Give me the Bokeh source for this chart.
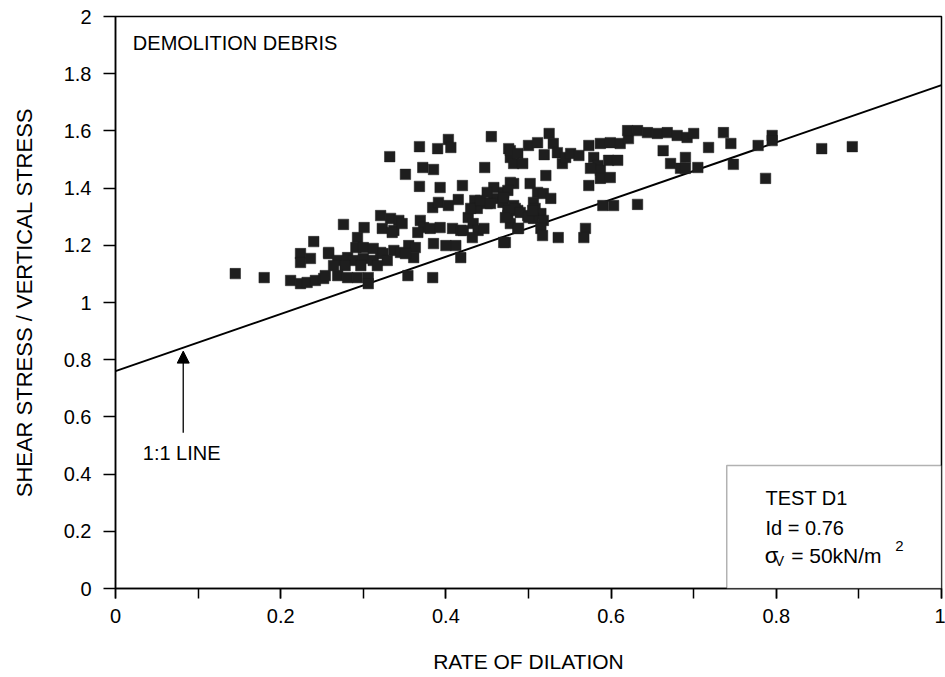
from bokeh.plotting import figure
from bokeh.models import (SingleIntervalTicker, CustomJSTickFormatter, Arrow,
                          NormalHead, BoxAnnotation, Label, ColumnDataSource)
from bokeh.embed import file_html
from bokeh.resources import INLINE

# ---- data ----
rate_of_dilation = [
    0.145, 0.180, 0.240, 0.224, 0.224, 0.236, 0.258, 0.212, 0.224, 0.232, 0.242, 0.252,
    0.332, 0.368, 0.390, 0.403, 0.406, 0.455, 0.476, 0.478, 0.482, 0.351, 0.372, 0.385, 0.447, 0.368, 0.393, 0.420, 0.458, 0.470, 0.482,
    0.384, 0.391, 0.403, 0.415, 0.435, 0.438, 0.450, 0.458, 0.469, 0.476, 0.427, 0.433, 0.439, 0.432, 0.475, 0.478, 0.487,
    0.276, 0.301, 0.293, 0.291, 0.321, 0.333, 0.343, 0.323, 0.337, 0.347, 0.369, 0.373, 0.366, 0.381, 0.393, 0.408, 0.418,
    0.385, 0.400, 0.412, 0.258, 0.269, 0.281, 0.288, 0.300, 0.312, 0.321, 0.337, 0.345, 0.355, 0.363, 0.361,
    0.264, 0.278, 0.297, 0.317, 0.418, 0.472, 0.254, 0.269, 0.281, 0.293, 0.306, 0.306, 0.354, 0.384,
    0.300, 0.312, 0.324, 0.351, 0.329, 0.335,
    0.478, 0.487, 0.493, 0.500, 0.511, 0.525, 0.530, 0.535, 0.541, 0.545, 0.519, 0.551, 0.561, 0.573, 0.587, 0.599, 0.611, 0.621,
    0.620, 0.632, 0.644, 0.656, 0.668, 0.680, 0.692, 0.700, 0.663, 0.579, 0.584, 0.587, 0.597, 0.608, 0.575, 0.587, 0.599, 0.573, 0.521,
    0.672, 0.684, 0.690, 0.705, 0.478, 0.475, 0.470, 0.502, 0.511, 0.518, 0.527, 0.482, 0.487, 0.475, 0.472, 0.506, 0.508, 0.515,
    0.499, 0.506, 0.518, 0.488, 0.515, 0.517, 0.536, 0.569, 0.567, 0.590, 0.603, 0.632,
    0.430, 0.442, 0.454, 0.484, 0.490, 0.421, 0.446, 0.470, 0.500, 0.505, 0.450,
    0.736, 0.745, 0.718, 0.690, 0.748, 0.778, 0.795, 0.795, 0.787, 0.855, 0.892,
]
stress_ratio = [
    1.101, 1.087, 1.213, 1.171, 1.140, 1.154, 1.171, 1.077, 1.066, 1.070, 1.077, 1.084,
    1.510, 1.545, 1.538, 1.570, 1.542, 1.580, 1.538, 1.507, 1.486, 1.448, 1.472, 1.465, 1.472, 1.406, 1.402, 1.409, 1.402, 1.385, 1.416,
    1.332, 1.350, 1.339, 1.360, 1.357, 1.329, 1.346, 1.364, 1.350, 1.329, 1.297, 1.276, 1.252, 1.227, 1.304, 1.276, 1.259,
    1.273, 1.262, 1.227, 1.192, 1.304, 1.294, 1.287, 1.259, 1.252, 1.276, 1.287, 1.262, 1.245, 1.259, 1.262, 1.259, 1.252,
    1.206, 1.199, 1.199, 1.175, 1.147, 1.157, 1.147, 1.154, 1.147, 1.175, 1.182, 1.175, 1.199, 1.192, 1.157,
    1.129, 1.129, 1.129, 1.129, 1.157, 1.210, 1.094, 1.094, 1.087, 1.087, 1.087, 1.066, 1.094, 1.087,
    1.192, 1.189, 1.171, 1.171, 1.147, 1.245,
    1.531, 1.521, 1.486, 1.549, 1.559, 1.591, 1.556, 1.524, 1.486, 1.507, 1.517, 1.521, 1.514, 1.549, 1.556, 1.559, 1.556, 1.573,
    1.601, 1.601, 1.594, 1.591, 1.594, 1.584, 1.577, 1.591, 1.531, 1.507, 1.479, 1.462, 1.497, 1.497, 1.469, 1.434, 1.437, 1.409, 1.444,
    1.486, 1.469, 1.507, 1.472, 1.420, 1.392, 1.367, 1.416, 1.385, 1.381, 1.364, 1.339, 1.322, 1.322, 1.297, 1.350, 1.329, 1.311,
    1.304, 1.294, 1.287, 1.259, 1.259, 1.234, 1.227, 1.259, 1.227, 1.339, 1.339, 1.343,
    1.329, 1.357, 1.346, 1.329, 1.315, 1.252, 1.259, 1.210, 1.297, 1.322, 1.385,
    1.594, 1.556, 1.542, 1.469, 1.483, 1.549, 1.584, 1.566, 1.434, 1.538, 1.545,
]
line_x = [0.0, 1.0]
line_y = [0.76, 1.76]

FONT = "Liberation Sans"

p = figure(width=945, height=677, x_range=(0, 1), y_range=(0, 2),
           output_backend="svg", toolbar_location=None,
           min_border_left=115, min_border_right=4, min_border_top=16,
           min_border_bottom=89)
p.background_fill_color = "white"
p.border_fill_color = "white"
p.outline_line_color = "black"
p.outline_line_width = 1.5
p.xgrid.visible = False
p.ygrid.visible = False

fmt = CustomJSTickFormatter(code="return Number(tick.toFixed(1)).toString();")

xa = p.xaxis[0]
xa.ticker = SingleIntervalTicker(interval=0.2, num_minor_ticks=2)
xa.formatter = fmt
xa.axis_label = "RATE OF DILATION"
ya = p.yaxis[0]
ya.ticker = SingleIntervalTicker(interval=0.2, num_minor_ticks=0)
ya.formatter = fmt
ya.axis_label = "SHEAR STRESS / VERTICAL STRESS"

for ax in (xa, ya):
    ax.axis_line_color = "black"
    ax.axis_line_width = 1.5
    ax.major_tick_line_color = "black"
    ax.minor_tick_line_color = "black"
    ax.major_tick_line_width = 1.5
    ax.minor_tick_line_width = 1.5
    ax.major_tick_in = 0
    ax.minor_tick_in = 0
    ax.major_tick_out = 10
    ax.minor_tick_out = 10
    ax.major_label_text_font = FONT
    ax.major_label_text_font_size = "20px"
    ax.major_label_text_color = "black"
    ax.major_label_standoff = 10
    ax.axis_label_text_font = FONT
    ax.axis_label_text_font_style = "normal"
    ax.axis_label_text_color = "black"
xa.axis_label_text_font_size = "21px"
ya.axis_label_text_font_size = "22px"
ya.major_tick_out = 12
ya.major_label_standoff = 12
ya.axis_label_standoff = 24
xa.axis_label_standoff = 24

# 1:1 line
p.line(line_x, line_y, line_color="black", line_width=2)

# data points
src = ColumnDataSource(dict(x=rate_of_dilation, y=stress_ratio))
p.scatter("x", "y", source=src, marker="square", size=10.5,
          fill_color="#1e1e1e", line_color="#1e1e1e", line_width=0.5)

# arrow pointing to the 1:1 line
p.add_layout(Arrow(end=NormalHead(size=12, fill_color="black", line_color="black"),
                   x_start=0.082, y_start=0.545, x_end=0.082, y_end=0.83,
                   line_color="black", line_width=1.3))

def lab(x, y, text, size="20px"):
    p.add_layout(Label(x=x, y=y, text=text, text_font=FONT, text_font_size=size,
                       text_color="black", text_align="left",
                       text_baseline="middle"))

lab(0.021, 1.906, "DEMOLITION DEBRIS")
lab(0.033, 0.475, "1:1 LINE")

# info box
p.add_layout(BoxAnnotation(left=0.74, right=1.0, bottom=0.0, top=0.43,
                           fill_color="white", fill_alpha=1.0,
                           line_color="black", line_width=1.5))
lab(0.787, 0.317, "TEST D1")
lab(0.787, 0.212, "Id = 0.76")
lab(0.786, 0.114, "σ", size="22px")
lab(0.798, 0.097, "V", size="14px")
lab(0.818, 0.114, "= 50kN/m", size="21px")
lab(0.944, 0.150, "2", size="15px")

open("out.html", "w").write(file_html(p, INLINE))
